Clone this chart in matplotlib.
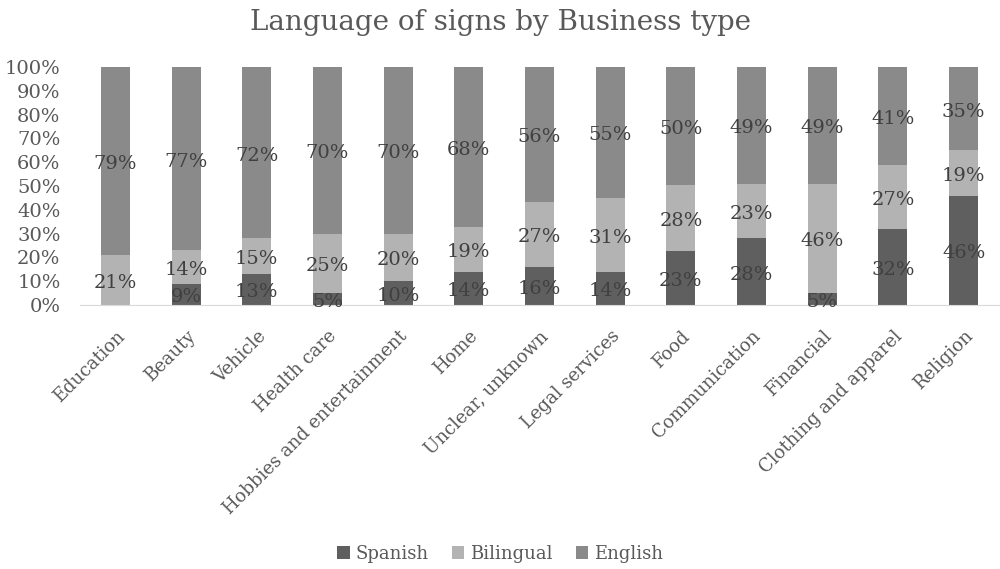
import matplotlib
matplotlib.use('Agg')
import matplotlib.pyplot as plt
import numpy as np

plt.rcParams['font.family'] = ['DejaVu Serif']

# Categorías y porcentajes por idioma
categorias = ['Education', 'Beauty', 'Vehicle', 'Health care', 'Hobbies and entertainment',
              'Home', 'Unclear, unknown', 'Legal services', 'Food', 'Communication',
              'Financial', 'Clothing and apparel', 'Religion']
spanish = [0, 9, 13, 5, 10, 14, 16, 14, 23, 28, 5, 32, 46]
bilingual = [21, 14, 15, 25, 20, 19, 27, 31, 28, 23, 46, 27, 19]
english = [79, 77, 72, 70, 70, 68, 56, 55, 50, 49, 49, 41, 35]

series = [('Spanish', spanish, '#5f5f5f'),
          ('Bilingual', bilingual, '#b3b3b3'),
          ('English', english, '#8a8a8a')]

fig = plt.figure(figsize=(10, 5.69), dpi=100)
ax = fig.add_axes([0.08, 0.464, 0.919, 0.418])

x = np.arange(len(categorias))
totales = np.array(spanish) + np.array(bilingual) + np.array(english)
base = np.zeros(len(categorias))
for nombre, valores, color in series:
    frac = np.array(valores) / totales
    ax.bar(x, frac, 0.41, bottom=base, color=color, label=nombre)
    for xi, f, b, v in zip(x, frac, base, valores):
        if v > 0:
            ax.text(xi, b + f / 2 - 0.012, f'{v}%', ha='center', va='center',
                    fontsize=14, color='#404040')
    base = base + frac

ax.set_xlim(-0.5, len(categorias) - 0.5)
ax.set_ylim(0, 1)
ax.set_yticks(np.linspace(0, 1, 11))
ax.set_yticklabels([f'{i}%' for i in range(0, 101, 10)], fontsize=14, color='#595959')
ax.set_xticks(x)
ax.set_xticklabels(categorias, rotation=45, ha='right', rotation_mode='anchor',
                   fontsize=13, color='#595959')
ax.tick_params(length=0, axis='both')
ax.tick_params(axis='y', pad=14)
ax.tick_params(axis='x', pad=16)
for s in ['top', 'right', 'left']:
    ax.spines[s].set_visible(False)
ax.spines['bottom'].set_color('#d9d9d9')

fig.suptitle('Language of signs by Business type', y=0.985, fontsize=20, color='#595959')
fig.legend(loc='lower center', ncol=3, frameon=False, fontsize=13,
           bbox_to_anchor=(0.5, -0.018), handlelength=0.7, handleheight=0.7,
           handletextpad=0.3, columnspacing=1.3, labelcolor='#595959')

plt.savefig('out.png', dpi=100)
